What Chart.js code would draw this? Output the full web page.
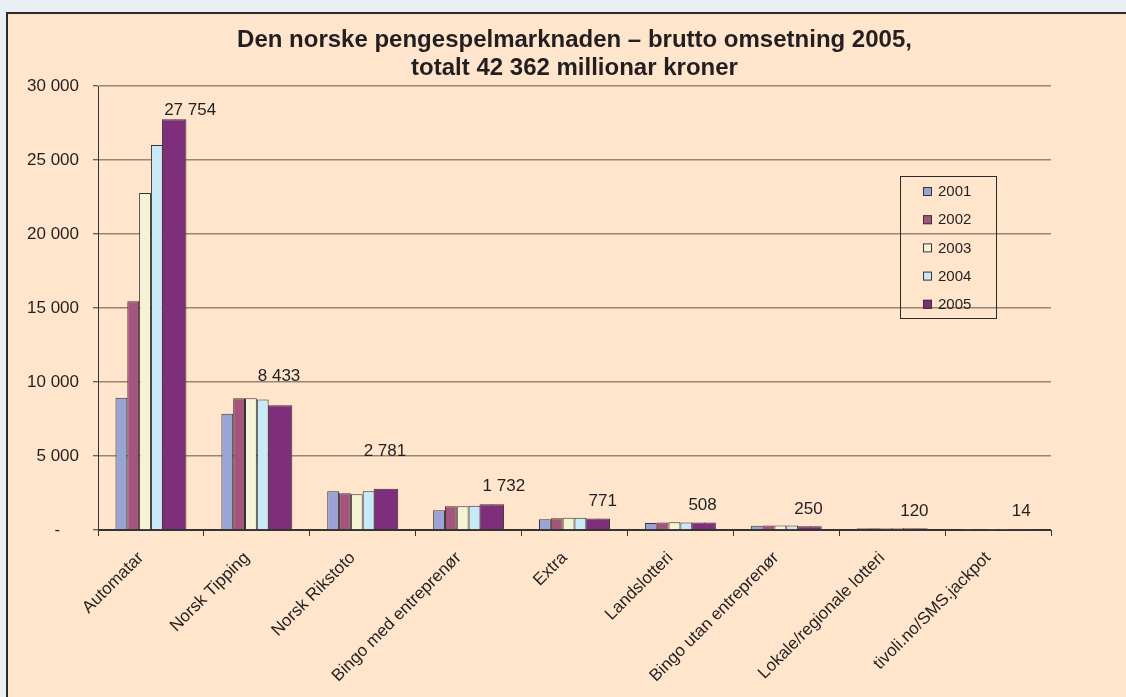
<!DOCTYPE html>
<html>
<head>
<meta charset="utf-8">
<script src="https://cdn.jsdelivr.net/npm/chart.js@4.4.0/dist/chart.umd.min.js"></script>
<style>
  html, body { margin: 0; padding: 0; width: 1126px; height: 697px; overflow: hidden; background: #eaeff3; }
  #panel { position: absolute; left: 6px; top: 12px; width: 1200px; height: 800px; background: #ffe5cb; border-left: 2px solid #2b2b2b; border-top: 2px solid #2b2b2b; }
  #wrap { position: absolute; left: 0; top: 0; width: 1126px; height: 697px; }
</style>
</head>
<body>
<div id="panel"></div>
<div id="wrap"><canvas id="chart" width="1126" height="697"></canvas></div>
<script>
// kategoriar og brutto omsetning (millionar kroner)
const categories = ['Automatar', 'Norsk Tipping', 'Norsk Rikstoto', 'Bingo med entreprenør', 'Extra',
  'Landslotteri', 'Bingo utan entreprenør', 'Lokale/regionale lotteri', 'tivoli.no/SMS.jackpot'];
const years = ['2001', '2002', '2003', '2004', '2005'];
const v2001 = [8940, 7860, 2610, 1330, 720, 480, 280, 110, 5];
const v2002 = [15450, 8900, 2480, 1600, 790, 500, 300, 120, 8];
const v2003 = [22770, 8900, 2410, 1610, 830, 530, 300, 120, 10];
const v2004 = [26010, 8820, 2610, 1640, 820, 510, 300, 120, 12];
const v2005 = [27754, 8433, 2781, 1732, 771, 508, 250, 120, 14];
const yTickLabels = ['-', '5 000', '10 000', '15 000', '20 000', '25 000', '30 000'];

const colors = ['#9aa3d6', '#a3557c', '#f5f3d6', '#c8e9f6', '#7e2f7b'];
const edge = '#3a3232';
const textColor = '#231f20';
const font = 'Liberation Sans, Arial, sans-serif';

function fmt(v) {
  return String(v).replace(/\B(?=(\d{3})+(?!\d))/g, ' ');
}

const seriesValues = [v2001, v2002, v2003, v2004, v2005];
const datasets = years.map((y, i) => ({
  label: y,
  data: seriesValues[i],
  backgroundColor: colors[i],
  borderColor: edge,
  borderWidth: 1
}));
// 2005-søyla er dobbelt så brei: to halvdelar side om side
// (venstre halvdel litt breiare så skøyten blir dekt)
datasets[4].borderWidth = { top: 1, left: 1, right: 0, bottom: 0 };
datasets[4].barPercentage = 1.15;
datasets.push({
  label: '2005',
  data: v2005,
  backgroundColor: colors[4],
  borderColor: edge,
  borderWidth: { top: 1, left: 0, right: 1, bottom: 0 }
});

// tittel, forklaring og verdiar over 2005-søylene
const extras = {
  id: 'extras',
  afterDraw(chart) {
    const ctx = chart.ctx;
    const ca = chart.chartArea;
    ctx.save();
    ctx.fillStyle = textColor;
    ctx.textAlign = 'center';
    ctx.textBaseline = 'alphabetic';
    ctx.font = 'bold 24px ' + font;
    const cx = (ca.left + ca.right) / 2;
    ctx.fillText('Den norske pengespelmarknaden – brutto omsetning 2005,', cx, 47);
    ctx.fillText('totalt 42 362 millionar kroner', cx, 75);

    // verdiar
    const lift = [9, 29, 38, 18, 17, 17, 17, 17, 18];
    const dx = [16, -1, -1, 12, 5, -1, -1, -1, 0];
    const a = chart.getDatasetMeta(4).data;
    const b = chart.getDatasetMeta(5).data;
    ctx.textBaseline = 'middle';
    ctx.font = '17px ' + font;
    for (let i = 0; i < v2005.length; i++) {
      const left = a[i].x - a[i].width / 2;
      const right = b[i].x + b[i].width / 2;
      ctx.fillText(fmt(v2005[i]), (left + right) / 2 + dx[i], a[i].y - lift[i]);
    }

    // forklaring
    const lx = 900, ly = 176;
    ctx.strokeStyle = '#2b2b2b';
    ctx.lineWidth = 1;
    ctx.strokeRect(lx + 0.5, ly + 0.5, 96, 142);
    ctx.textAlign = 'left';
    ctx.font = '15px ' + font;
    years.forEach((y, i) => {
      const ry = ly + 15 + i * 28.2;
      ctx.fillStyle = colors[i];
      ctx.fillRect(lx + 23, ry - 4, 9, 9);
      ctx.strokeStyle = edge;
      ctx.strokeRect(lx + 23.5, ry - 3.5, 8, 8);
      ctx.fillStyle = textColor;
      ctx.fillText(y, lx + 38, ry + 1);
    });
    ctx.restore();
  }
};

Chart.defaults.font.family = font;
Chart.defaults.color = textColor;

new Chart(document.getElementById('chart'), {
  type: 'bar',
  data: { labels: categories, datasets: datasets },
  plugins: [extras],
  options: {
    responsive: false,
    animation: false,
    devicePixelRatio: 1,
    layout: { padding: { top: 86, right: 75, bottom: 0, left: 0 } },
    datasets: { bar: { categoryPercentage: 0.67, barPercentage: 1 } },
    plugins: { legend: { display: false }, tooltip: { enabled: false } },
    scales: {
      x: {
        grid: { offset: true, drawOnChartArea: false, color: '#333', tickLength: 6, lineWidth: 1 },
        border: { color: '#333', width: 1 },
        ticks: { autoSkip: false, maxRotation: 45, minRotation: 45, labelOffset: -10, padding: 12,
          font: { size: 17 }, color: textColor },
        afterFit: s => { s.height = 167; }
      },
      y: {
        min: 0,
        max: 30000,
        ticks: {
          stepSize: 5000,
          padding: 14,
          font: { size: 17 },
          color: textColor,
          callback: v => {
            const t = yTickLabels[Math.round(v / 5000)];
            return t === '-' ? '-    ' : t;
          }
        },
        grid: {
          color: c => (c.tick && c.tick.value === 0 ? '#333' : '#958777'),
          lineWidth: 1.5,
          tickColor: '#333',
          tickLength: 5,
          tickWidth: 1
        },
        border: { color: '#333', width: 1 },
        afterFit: s => { s.width = 98; }
      }
    }
  }
});
</script>
</body>
</html>
